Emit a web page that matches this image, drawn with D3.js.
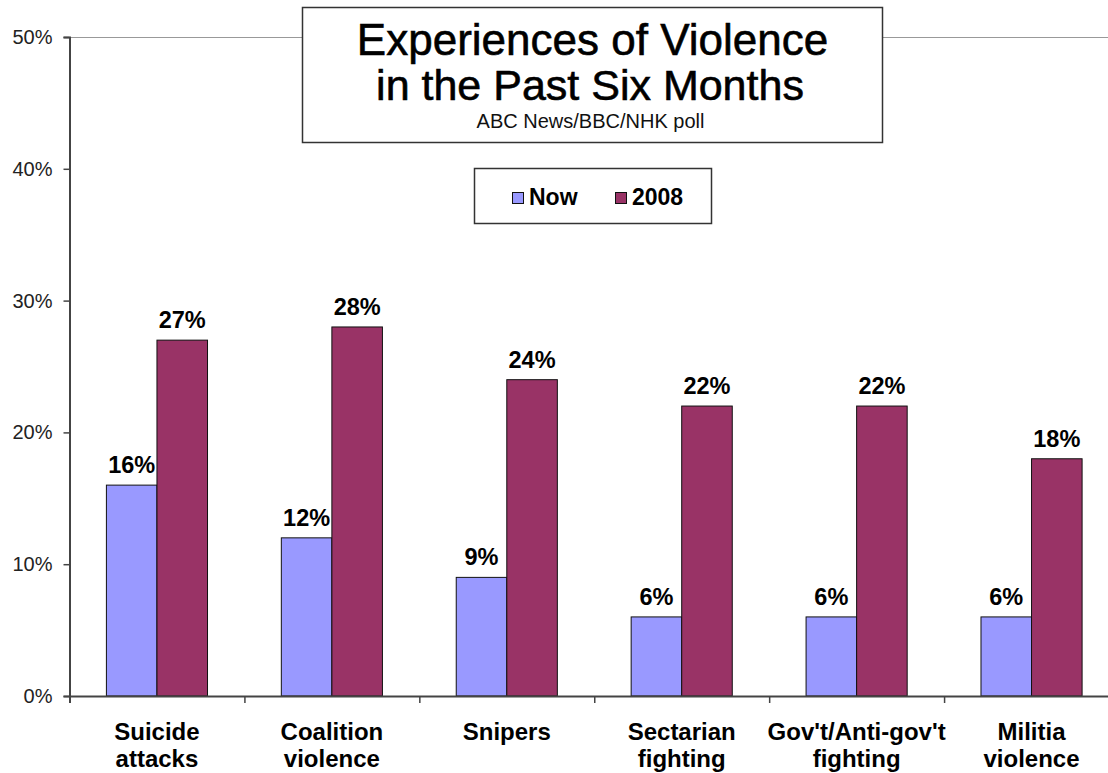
<!DOCTYPE html>
<html>
<head>
<meta charset="utf-8">
<script src="https://cdn.jsdelivr.net/npm/d3@7"></script>
<style>
  html, body { margin: 0; padding: 0; background: #fff; }
  svg { display: block; }
  text { font-family: "Liberation Sans", Arial, sans-serif; }
</style>
</head>
<body>
<svg id="chart" width="1108" height="773"></svg>
<script>
const categories = [
  ["Suicide", "attacks"],
  ["Coalition", "violence"],
  ["Snipers"],
  ["Sectarian", "fighting"],
  ["Gov't/Anti-gov't", "fighting"],
  ["Militia", "violence"]
];
const seriesNames = ["Now", "2008"];
const nowValues = [16, 12, 9, 6, 6, 6];
const y2008Values = [27, 28, 24, 22, 22, 18];
const yTicks = [0, 10, 20, 30, 40, 50];
const titleLines = ["Experiences of Violence", "in the Past Six Months"];
const subtitle = "ABC News/BBC/NHK poll";
const colors = ["#9999FF", "#993366"];

(function () {
const svg = d3.select("#chart");
const pLeft = 69.5, pRight = 1119, pTop = 37, pBottom = 696;

const x = d3.scaleBand().domain(d3.range(categories.length)).range([pLeft, pRight]).paddingInner(0).paddingOuter(0);
const y = d3.scaleLinear().domain([0, 50]).range([pBottom, pTop]);
const xs = d3.scaleBand().domain(seriesNames).range([0, x.bandwidth()]).paddingInner(0).paddingOuter(0.73);

// plot border top
svg.append("line").attr("x1", pLeft).attr("x2", 1108).attr("y1", pTop + 0.5).attr("y2", pTop + 0.5)
  .attr("stroke", "#999").attr("stroke-width", 1.2);

// Bars
const series = [nowValues, y2008Values];
series.forEach((vals, si) => {
  svg.append("g").selectAll("rect").data(vals).join("rect")
    .attr("x", (d, i) => x(i) + xs(seriesNames[si]))
    .attr("width", xs.bandwidth())
    .attr("y", d => y(d))
    .attr("height", d => y(0) - y(d))
    .attr("fill", colors[si])
    .attr("stroke", "#111")
    .attr("stroke-width", 1);
  svg.append("g").selectAll("text").data(vals).join("text")
    .attr("x", (d, i) => x(i) + xs(seriesNames[si]) + xs.bandwidth() / 2)
    .attr("y", d => y(d) - 12)
    .attr("text-anchor", "middle")
    .attr("font-size", 23.5)
    .attr("font-weight", "bold")
    .attr("fill", "#000")
    .text(d => d + "%");
});

// Y axis
const yAxis = d3.axisLeft(y).tickValues(yTicks).tickSize(6).tickPadding(11).tickFormat(d => d + "%");
const gy = svg.append("g").attr("transform", `translate(${pLeft},0)`).call(yAxis);
gy.select(".domain").attr("stroke", "#444").attr("stroke-width", 2);
gy.selectAll(".tick line").attr("stroke", "#444").attr("stroke-width", 1.5);
gy.selectAll(".tick text").attr("font-size", 20).attr("fill", "#222")
  .attr("font-family", "Liberation Sans, Arial, sans-serif");

// X axis
const xb = d3.scaleLinear().domain([0, categories.length]).range([pLeft, pRight]);
const gx = svg.append("g").attr("transform", `translate(0,${pBottom})`)
  .call(d3.axisBottom(xb).tickValues(d3.range(0, categories.length + 1)).tickSize(7).tickFormat(""));
gx.select(".domain").attr("stroke", "#444").attr("stroke-width", 2);
gx.selectAll(".tick line").attr("stroke", "#444").attr("stroke-width", 1.5);

// Category labels
const cl = svg.append("g").selectAll("text").data(categories).join("text")
  .attr("x", (d, i) => x(i) + x.bandwidth() / 2)
  .attr("y", 740)
  .attr("text-anchor", "middle")
  .attr("font-size", 24)
  .attr("font-weight", "bold")
  .attr("fill", "#000");
cl.each(function(d) {
  const t = d3.select(this);
  d.forEach((line, li) => {
    t.append("tspan").attr("x", t.attr("x")).attr("dy", li === 0 ? 0 : 27).text(line);
  });
});

// Title box
svg.append("rect").attr("x", 302.5).attr("y", 7.5).attr("width", 580).attr("height", 135)
  .attr("fill", "#fff").attr("stroke", "#333").attr("stroke-width", 1.5);
svg.append("text").attr("x", 592.5).attr("y", 55).attr("text-anchor", "middle")
  .attr("font-size", 44).attr("fill", "#000").attr("stroke", "#000").attr("stroke-width", 0.6)
  .text(titleLines[0]);
svg.append("text").attr("x", 590).attr("y", 100).attr("text-anchor", "middle")
  .attr("font-size", 43).attr("fill", "#000").attr("stroke", "#000").attr("stroke-width", 0.6)
  .text(titleLines[1]);
svg.append("text").attr("x", 590.5).attr("y", 128).attr("text-anchor", "middle")
  .attr("font-size", 20).attr("fill", "#111").text(subtitle);

// Legend
svg.append("rect").attr("x", 474.5).attr("y", 168.5).attr("width", 237).attr("height", 55)
  .attr("fill", "#fff").attr("stroke", "#333").attr("stroke-width", 1.5);
const legendX = [512, 615];
seriesNames.forEach((name, i) => {
  svg.append("rect").attr("x", legendX[i] + 0.5).attr("y", 192.5).attr("width", 11).attr("height", 11)
    .attr("fill", colors[i]).attr("stroke", "#111").attr("stroke-width", 1);
  svg.append("text").attr("x", legendX[i] + 17).attr("y", 205)
    .attr("font-size", 23).attr("font-weight", "bold").attr("fill", "#000").text(name);
});
})();
</script>
</body>
</html>
